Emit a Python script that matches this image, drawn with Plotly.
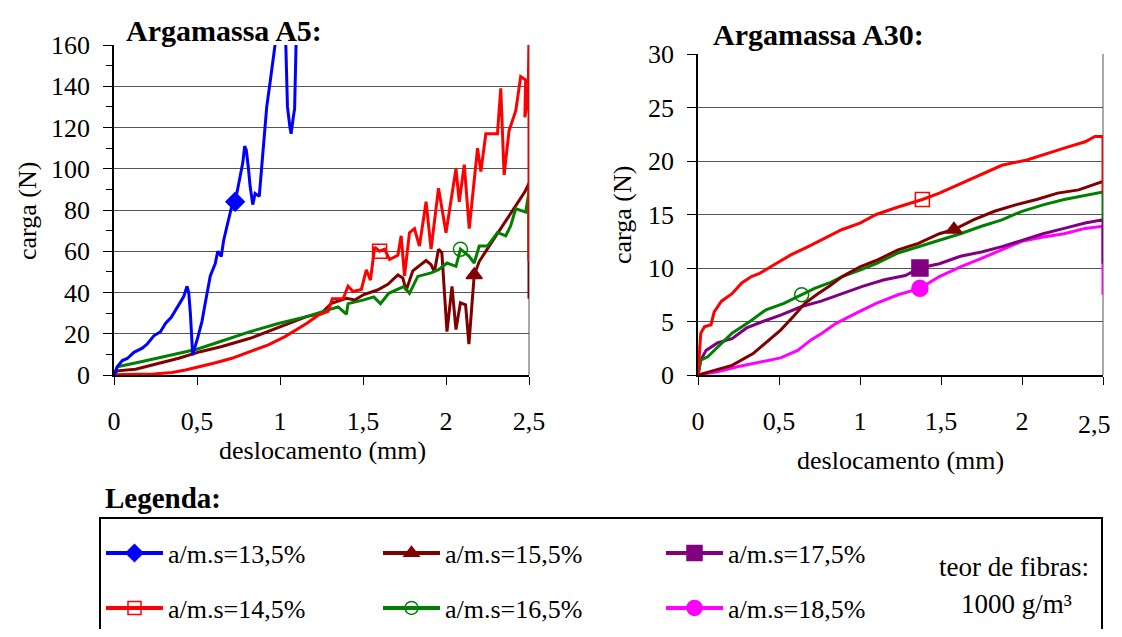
import plotly.graph_objects as go

FONT = "Liberation Serif"
# the page adds an 8px body margin, so the figure is made smaller and every
# pixel position below is shifted by that margin
OFF = 8
W, H = 1122 - OFF, 637 - 2 * OFF

# ---------------- Data: Argamassa A5 ----------------
a5_135_x = [0, 0.02, 0.05, 0.08, 0.12, 0.17, 0.2, 0.24, 0.28, 0.31, 0.345, 0.39, 0.42, 0.44, 0.45, 0.46,
            0.474, 0.506, 0.53, 0.55, 0.58, 0.61, 0.625, 0.646, 0.66, 0.68, 0.71, 0.73, 0.755, 0.776,
            0.787, 0.797, 0.81, 0.82, 0.836, 0.85, 0.875, 0.894, 0.905, 0.92, 0.94, 0.97, 0.98,
            1.02, 1.034, 1.045, 1.06, 1.067, 1.08, 1.088, 1.1]
a5_135_y = [0, 4, 7, 8, 11, 13, 15, 19, 21, 25, 28, 34, 38, 43, 40, 30,
            9.7, 18.6, 26, 35, 48, 54, 60, 57.5, 65, 72, 82, 84, 95, 103,
            111, 109, 100, 91.5, 82.6, 88, 86.6, 106, 119, 130, 141.7, 160, 172,
            172, 163, 130, 120, 117, 125, 129, 172]

a5_145_x = [0, 0.05, 0.24, 0.35, 0.43, 0.517, 0.6, 0.71, 0.82, 0.93, 1.03, 1.1, 1.16, 1.23, 1.29, 1.315,
            1.38, 1.41, 1.44, 1.49, 1.52, 1.545, 1.57, 1.6, 1.63, 1.66, 1.71, 1.73, 1.75, 1.78, 1.81,
            1.84, 1.88, 1.91, 1.955, 2.0, 2.06, 2.08, 2.11, 2.14, 2.19, 2.21, 2.24, 2.31, 2.33, 2.35,
            2.38, 2.42, 2.45, 2.48, 2.475, 2.495, 2.5, 2.5]
a5_145_y = [0, 0.3, 0.5, 1.2, 2.4, 4, 5.7, 8.1, 11.3, 14.6, 18.6, 21.9, 25, 29, 30.8, 37,
            37, 43, 40.5, 41.5, 51, 46, 62, 60, 61, 56, 58, 67.5, 48, 69, 71,
            62.5, 84, 61, 90.6, 69, 100, 84, 102, 71, 110, 98.7, 117, 117, 139, 97,
            118.5, 128, 144.7, 143, 125, 135, 165, 55]

a5_155_x = [0, 0.02, 0.13, 0.28, 0.39, 0.52, 0.65, 0.82, 0.95, 1.06, 1.16, 1.25, 1.31, 1.4, 1.45, 1.505,
            1.587, 1.65, 1.71, 1.74, 1.76, 1.8, 1.88, 1.91, 1.93, 1.955, 1.975, 2.006, 2.036, 2.06,
            2.087, 2.118, 2.138, 2.17, 2.2, 2.26, 2.34, 2.41, 2.475, 2.5, 2.5]
a5_155_y = [0, 2, 2.8, 5.7, 8.1, 11.3, 13.8, 17.8, 21.9, 25, 28.3, 30, 34.8, 37.2, 36.4, 39,
            41.2, 44, 48.5, 47, 41, 50.5, 55.5, 53.5, 50, 61, 59.3, 21, 43, 22,
            35, 34, 15, 48.5, 55, 62.5, 72.4, 80.6, 88.8, 93, 37]

a5_165_x = [0, 0.02, 0.17, 0.345, 0.5, 0.65, 0.82, 0.99, 1.16, 1.29, 1.35, 1.4, 1.41, 1.505, 1.565, 1.605,
            1.655, 1.745, 1.78, 1.83, 1.91, 1.955, 2.006, 2.06, 2.087, 2.138, 2.17, 2.2, 2.25, 2.31,
            2.36, 2.39, 2.42, 2.48, 2.5, 2.5]
a5_165_y = [0, 4, 6.5, 9.7, 12.5, 16.5, 21, 25, 28.3, 31.6, 33, 29.5, 34.6, 36.4, 37.9, 34.6,
            39.6, 42.9, 39.6, 47.8, 49.5, 51.1, 54.3, 52.7, 61, 57.7, 54.3, 62.5, 62.5, 69.1,
            67.5, 72.4, 80.6, 79, 88.8, 56]

# ---------------- Data: Argamassa A30 ----------------
a30_145_x = [0, 0.017, 0.04, 0.08, 0.1, 0.145, 0.21, 0.27, 0.33, 0.38, 0.47, 0.57, 0.68, 0.79, 0.89, 1.0,
             1.1, 1.235, 1.385, 1.49, 1.62, 1.75, 1.876, 2.03, 2.15, 2.28, 2.39, 2.45, 2.5, 2.5]
a30_145_y = [0, 3.9, 4.5, 4.7, 5.9, 6.9, 7.6, 8.6, 9.2, 9.5, 10.3, 11.2, 12.0, 12.8, 13.6, 14.2,
             15.0, 15.7, 16.4, 17.0, 17.9, 18.8, 19.6, 20.1, 20.7, 21.3, 21.8, 22.3, 22.3, 17.0]

a30_155_x = [0, 0.12, 0.21, 0.34, 0.42, 0.51, 0.59, 0.66, 0.74, 0.81, 0.89, 1.0, 1.1, 1.235, 1.36, 1.49,
             1.58, 1.7, 1.83, 1.96, 2.09, 2.22, 2.35, 2.45, 2.5]
a30_155_y = [0, 0.5, 0.9, 2.0, 3.0, 4.2, 5.5, 6.7, 7.6, 8.3, 9.2, 10.1, 10.7, 11.7, 12.3, 13.2,
             13.6, 14.5, 15.3, 15.9, 16.4, 17.0, 17.3, 17.8, 18.1]

a30_165_x = [0, 0.017, 0.06, 0.12, 0.21, 0.32, 0.42, 0.53, 0.64, 0.72, 0.81, 0.89, 1.0, 1.1, 1.235, 1.36,
             1.49, 1.62, 1.75, 1.876, 2.0, 2.13, 2.26, 2.39, 2.5, 2.5]
a30_165_y = [0, 1.4, 1.7, 2.6, 3.9, 5.0, 6.1, 6.7, 7.5, 8.1, 8.6, 9.2, 9.8, 10.4, 11.4, 12.0,
             12.6, 13.2, 13.9, 14.5, 15.3, 15.9, 16.4, 16.8, 17.1, 14.5]

a30_175_x = [0, 0.017, 0.05, 0.12, 0.21, 0.3, 0.4, 0.51, 0.64, 0.76, 0.89, 1.02, 1.15, 1.28, 1.37, 1.49,
             1.62, 1.75, 1.876, 2.0, 2.13, 2.26, 2.39, 2.5, 2.5]
a30_175_y = [0, 1.4, 2.3, 3.0, 3.4, 4.4, 5.0, 5.6, 6.4, 6.9, 7.6, 8.3, 8.9, 9.3, 10.0, 10.4,
             11.1, 11.5, 12.0, 12.6, 13.2, 13.7, 14.2, 14.5, 10.4]

a30_185_x = [0, 0.12, 0.25, 0.38, 0.51, 0.615, 0.7, 0.765, 0.85, 0.98, 1.1, 1.235, 1.37, 1.49, 1.62, 1.75,
             1.876, 2.0, 2.13, 2.26, 2.39, 2.5, 2.5]
a30_185_y = [0, 0.3, 0.8, 1.2, 1.6, 2.3, 3.3, 3.9, 4.8, 5.8, 6.7, 7.5, 8.1, 9.2, 10.1, 10.9,
             11.7, 12.5, 12.9, 13.2, 13.7, 13.9, 7.5]

series_labels = ["a/m.s=13,5%", "a/m.s=14,5%", "a/m.s=15,5%", "a/m.s=16,5%", "a/m.s=17,5%", "a/m.s=18,5%"]
series_colors = ["#0000FF", "#FF0000", "#800000", "#008000", "#800080", "#FF00FF"]
series_symbols = ["diamond", "square-open", "triangle-up", "circle-open", "square", "circle"]
series_msize = [14, 14, 14, 14, 16, 16]

# index of the single marker drawn on each curve
a5_series = [(0, a5_135_x, a5_135_y, 27), (1, a5_145_x, a5_145_y, 23),
             (2, a5_155_x, a5_155_y, 33), (3, a5_165_x, a5_165_y, 24)]
a30_series = [(1, a30_145_x, a30_145_y, 18), (2, a30_155_x, a30_155_y, 16),
              (3, a30_165_x, a30_165_y, 8), (4, a30_175_x, a30_175_y, 14),
              (5, a30_185_x, a30_185_y, 12)]

x_ticks = [0, 0.5, 1, 1.5, 2, 2.5]
x_ticktext = ["0", "0,5", "1", "1,5", "2", "2,5"]

fig = go.Figure()

def add_series(items, xa, ya, draw_order):
    for k in draw_order:
        i, xs, ys, mi = items[k]
        fig.add_trace(go.Scatter(x=xs, y=ys, mode="lines", xaxis=xa, yaxis=ya,
                                 line=dict(color=series_colors[i], width=3), showlegend=False,
                                 hoverinfo="skip"))
    for k in draw_order:
        i, xs, ys, mi = items[k]
        fig.add_trace(go.Scatter(x=[xs[mi]], y=[ys[mi]], mode="markers", xaxis=xa, yaxis=ya,
                                 marker=dict(symbol=series_symbols[i], size=series_msize[i],
                                             color=series_colors[i],
                                             line=dict(color=series_colors[i], width=1.5)),
                                 showlegend=False, cliponaxis=False))

add_series(a5_series, "x", "y", [2, 3, 1, 0])
add_series(a30_series, "x2", "y2", [4, 3, 2, 1, 0])

def px(x):
    return (x - OFF) / W

def py(y):
    return 1 - (y - OFF) / H

# legend: one single-entry legend per series, in a 3x2 grid
leg_cols = [101, 378, 661]
leg_rows = [553, 608]
legend_layouts = {}
for i in range(6):
    name = "legend" if i == 0 else "legend%d" % (i + 1)
    col, row = i // 2, i % 2
    fig.add_trace(go.Scatter(x=[None], y=[None], mode="lines+markers", name=series_labels[i],
                             legend=name, xaxis="x", yaxis="y",
                             line=dict(color=series_colors[i], width=4),
                             marker=dict(symbol=series_symbols[i], size=series_msize[i] - 1,
                                         color=series_colors[i],
                                         line=dict(color=series_colors[i], width=1.5))))
    legend_layouts[name] = dict(x=px(leg_cols[col]), y=py(leg_rows[row]), xanchor="left", yanchor="middle",
                                orientation="h", itemwidth=57, bgcolor="rgba(0,0,0,0)",
                                font=dict(family=FONT, size=26, color="black"))

tickfont = dict(family=FONT, size=26, color="black")
common_x = dict(tickvals=x_ticks, showgrid=False, showline=True,
                linecolor="black", linewidth=1.5, ticks="outside", ticklen=8, tickcolor="black",
                tickfont=tickfont, ticklabelstandoff=14, zeroline=False, fixedrange=True)

# the visible page ends just right of the A30 axis, so its last label is right-aligned there
x2_ticktext = x_ticktext[:-1] + [""]

fig.update_layout(
    width=W, height=H, margin=dict(l=0, r=0, t=0, b=0, autoexpand=False),
    paper_bgcolor="white", plot_bgcolor="white",
    font=dict(family=FONT, color="black"),
    xaxis=dict(domain=[px(114), px(529)], range=[0, 2.5], anchor="y", ticktext=x_ticktext, **common_x),
    yaxis=dict(domain=[py(375), py(45)], range=[0, 160], anchor="x", tickvals=list(range(0, 161, 20)),
               showgrid=True, gridcolor="#555555", gridwidth=1, showline=True, linecolor="black",
               linewidth=1.5, ticks="outside", ticklen=9, tickcolor="black", tickfont=tickfont,
               ticklabelstandoff=8, zeroline=False,
               minor=dict(tickvals=list(range(10, 160, 20)), ticks="outside", ticklen=6,
                          tickcolor="black", showgrid=False)),
    xaxis2=dict(domain=[px(698), px(1103)], range=[0, 2.5], anchor="y2", ticktext=x2_ticktext, **common_x),
    yaxis2=dict(domain=[py(375), py(54)], range=[0, 30], anchor="x2", tickvals=list(range(0, 31, 5)),
                showgrid=True, gridcolor="#555555", gridwidth=1, showline=True, linecolor="black",
                linewidth=1.5, ticks="outside", ticklen=9, tickcolor="black", tickfont=tickfont,
                ticklabelstandoff=8, zeroline=False),
    **legend_layouts,
)

# plot-area right border (gray)
for xd, yd in (("x domain", "y domain"), ("x2 domain", "y2 domain")):
    fig.add_shape(type="line", xref=xd, yref=yd, x0=1, x1=1, y0=0, y1=1,
                  line=dict(color="#555555", width=1), layer="below")

# legend box
fig.add_shape(type="rect", xref="paper", yref="paper", x0=px(100), x1=px(1102), y0=py(518), y1=-0.03,
              line=dict(color="black", width=2), fillcolor="rgba(0,0,0,0)")

ann = [
    dict(text="<b>Argamassa A5:</b>", x=px(124), y=py(31), xanchor="left", size=30),
    dict(text="<b>Argamassa A30:</b>", x=px(711), y=py(35), xanchor="left", size=30),
    dict(text="deslocamento (mm)", x=px(322), y=py(450), xanchor="center", size=26),
    dict(text="deslocamento (mm)", x=px(900), y=py(460), xanchor="center", size=26),
    dict(text="<b>Legenda:</b>", x=px(103), y=py(498), xanchor="left", size=29),
    dict(text="teor de fibras:", x=px(1014), y=py(567), xanchor="center", size=27),
    dict(text="1000 g/m³", x=px(1016), y=py(604), xanchor="center", size=27),
    dict(text=x_ticktext[-1], x=px(1113), y=py(424), xanchor="right", size=26),
]
for a in ann:
    fig.add_annotation(text=a["text"], x=a["x"], y=a["y"], xref="paper", yref="paper",
                       xanchor=a["xanchor"], yanchor="middle", showarrow=False,
                       font=dict(family=FONT, size=a["size"], color="black"))
for xx, yy in ((27, 211), (623, 215)):
    fig.add_annotation(text="carga (N)", x=px(xx), y=py(yy), xref="paper", yref="paper",
                       xanchor="center", yanchor="middle", textangle=-90, showarrow=False,
                       font=dict(family=FONT, size=26, color="black"))

fig.write_html("out.html")
